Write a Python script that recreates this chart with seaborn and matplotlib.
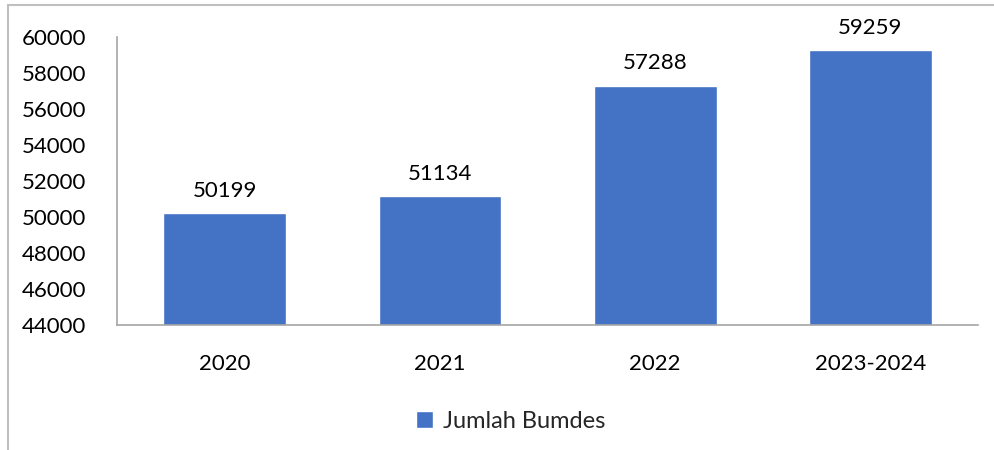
import matplotlib
matplotlib.use("Agg")
import matplotlib.pyplot as plt
import seaborn as sns
import pandas as pd
from matplotlib.lines import Line2D

years = ["2020", "2021", "2022", "2023-2024"]
jumlah_bumdes = [50199, 51134, 57288, 59259]
series_name = "Jumlah Bumdes"
y_ticks = [44000, 46000, 48000, 50000, 52000, 54000, 56000, 58000, 60000]

BAR_COLOR = "#4472C4"
AXIS_COLOR = "#A6A6A6"


def plot_bars():
    sns.set_theme(style="white")
    plt.rcParams["font.family"] = ["Lato", "DejaVu Sans"]

    df = pd.DataFrame({"Tahun": years, "Nilai": jumlah_bumdes, "Seri": series_name})

    fig = plt.figure(figsize=(9.95, 4.5), dpi=100)
    ax = fig.add_axes([0.1176, 0.278, 0.8654, 0.640])

    sns.barplot(data=df, x="Tahun", y="Nilai", hue="Seri", palette=[BAR_COLOR],
                width=0.57, saturation=1, ax=ax)

    ax.set_ylim(44000, 60000)
    ax.set_yticks(y_ticks)
    ax.set_xlabel("")
    ax.set_ylabel("")

    for c in ax.containers:
        ax.bar_label(c, labels=[str(v) for v in jumlah_bumdes], padding=9,
                     fontsize=16, color="black")

    for side in ["top", "right"]:
        ax.spines[side].set_visible(False)
    for side in ["left", "bottom"]:
        ax.spines[side].set_color(AXIS_COLOR)
        ax.spines[side].set_linewidth(1.2)

    ax.tick_params(axis="y", length=0, pad=22, labelsize=16, labelcolor="black")
    ax.tick_params(axis="x", length=0, pad=21, labelsize=16, labelcolor="black")

    ax.legend(loc="upper center", bbox_to_anchor=(0.457, -0.225), frameon=False,
              fontsize=17, handlelength=0.75, handleheight=0.75, handletextpad=0.4)

    # chart frame (partly cropped in the reference)
    fig.add_artist(Line2D([0.008, 1.0], [0.989, 0.989], transform=fig.transFigure,
                          color="#BFBFBF", linewidth=1.5))
    fig.add_artist(Line2D([0.008, 0.008], [0.0, 0.989], transform=fig.transFigure,
                          color="#BFBFBF", linewidth=1.5))

    fig.savefig("out.png", dpi=100)
    plt.close(fig)


if __name__ == "__main__":
    plot_bars()
